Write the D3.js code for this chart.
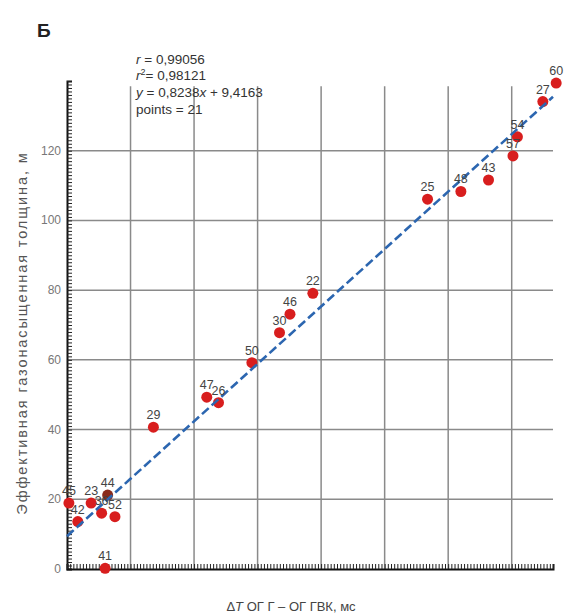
<!DOCTYPE html>
<html><head><meta charset="utf-8">
<script src="https://cdn.jsdelivr.net/npm/d3@7"></script>
<style>body{margin:0;background:#fff;} svg{display:block;font-family:"Liberation Sans",Arial,sans-serif;}</style>
</head><body>
<script>
const labels = ["60","27","54","57","43","48","25","22","46","30","50","47","26","29","45","42","23","44","36","52","41"];
const xVals  = [154.0,149.8,141.8,140.4,132.7,124.0,113.5,77.4,70.2,66.9,58.2,44.0,47.7,27.2,0.6,3.4,7.6,12.8,10.9,15.1,12.0];
const yVals  = [139.4,134.1,124.0,118.5,111.6,108.3,106.1,79.1,73.1,67.8,59.2,49.3,47.7,40.7,18.9,13.6,18.9,21.2,16.0,15.0,0.2];
const yTicks = [0,20,40,60,80,100,120];
const xGrid  = [20,40,60,80,100,120,140];
const slope = 0.8238, intercept = 9.4163;

const W=564,H=616;
const svg=d3.select("body").append("svg").attr("width",W).attr("height",H);
const x=d3.scaleLinear().domain([0,153]).range([67,553]);
const y=d3.scaleLinear().domain([0,140]).range([569,81]);

// grid
svg.append("g").selectAll("line").data(yTicks.filter(d=>d>0)).join("line")
  .attr("x1",x(0)).attr("x2",x(153)).attr("y1",d=>y(d)).attr("y2",d=>y(d))
  .attr("stroke","#8a8a8a").attr("stroke-width",1.5);
svg.append("g").selectAll("line").data(xGrid).join("line")
  .attr("x1",d=>x(d)).attr("x2",d=>x(d)).attr("y1",y(0)).attr("y2",y(138.5))
  .attr("stroke","#8a8a8a").attr("stroke-width",1.5);

// axes with minor ticks (inside)
const yAx=d3.axisRight(y).tickValues(d3.range(0,141,1)).tickSize(5).tickFormat("");
svg.append("g").attr("transform",`translate(${x(0)},0)`).call(yAx)
  .call(g=>{g.select(".domain").attr("stroke","#111").attr("stroke-width",2);g.selectAll(".tick line").attr("stroke","#222").attr("stroke-width",1);});
const xAx=d3.axisTop(x).tickValues(d3.range(0,154,1)).tickSize(5).tickFormat("");
svg.append("g").attr("transform",`translate(0,${y(0)})`).call(xAx)
  .call(g=>{g.select(".domain").attr("stroke","#111").attr("stroke-width",2);g.selectAll(".tick line").attr("stroke","#222").attr("stroke-width",1);});

// y tick labels
svg.append("g").selectAll("text").data(yTicks).join("text")
  .attr("x",x(0)-6).attr("y",d=>y(d)+4).attr("text-anchor","end")
  .attr("font-size",12).attr("fill","#777").text(d=>d);

// points
const pts=labels.map((l,i)=>({l,x:xVals[i],y:yVals[i]}));
svg.append("g").selectAll("circle").data(pts).join("circle")
  .attr("cx",d=>x(d.x)).attr("cy",d=>y(d.y)).attr("r",5.5)
  .attr("fill",d=>d.l==="44"?"#8a2a1a":"#d81e1e");

// regression line
svg.append("line").attr("x1",x(0)).attr("y1",y(intercept))
  .attr("x2",x(153)).attr("y2",y(slope*153+intercept))
  .attr("stroke","#2c66b0").attr("stroke-width",2.6).attr("stroke-dasharray","9,4");

// point labels
svg.append("g").selectAll("text").data(pts).join("text")
  .attr("x",d=>x(d.x)).attr("y",d=>y(d.y)-8).attr("text-anchor","middle")
  .attr("font-size",12.5).attr("fill","#444").text(d=>d.l);

// stats text
const st=svg.append("text").attr("font-size",13.5).attr("fill","#333");
const by=[64,80,97,114];
[0,1,2,3].forEach(i=>{
  const t=st.append("tspan").attr("x",136).attr("y",by[i]);
  if(i===0){t.append("tspan").attr("font-style","italic").text("r");t.append("tspan").text(" = 0,99056");}
  else if(i===1){t.append("tspan").attr("font-style","italic").text("r");t.append("tspan").attr("font-size",9).attr("dy",-5).text("2");t.append("tspan").attr("dy",5).text("= 0,98121");}
  else if(i===2){t.append("tspan").attr("font-style","italic").text("y");t.append("tspan").text(" = 0,8238");t.append("tspan").attr("font-style","italic").text("x");t.append("tspan").text(" + 9,4163");}
  else t.text("points = 21");
});

// title letter
svg.append("text").attr("x",37).attr("y",37).attr("font-size",19).attr("font-weight","bold").attr("fill","#222").text("Б");

// axis titles
svg.append("text").attr("transform",`translate(27,333) rotate(-90)`).attr("text-anchor","middle")
  .attr("font-size",14.5).attr("letter-spacing",1.9).attr("fill","#555").text("Эффективная газонасыщенная толщина, м");
const xt=svg.append("text").attr("x",291).attr("y",611).attr("text-anchor","middle").attr("font-size",13).attr("fill","#444");
xt.append("tspan").text("Δ");
xt.append("tspan").attr("font-style","italic").text("T");
xt.append("tspan").text(" ОГ Г – ОГ ГВК,  мс");
</script>
</body></html>
